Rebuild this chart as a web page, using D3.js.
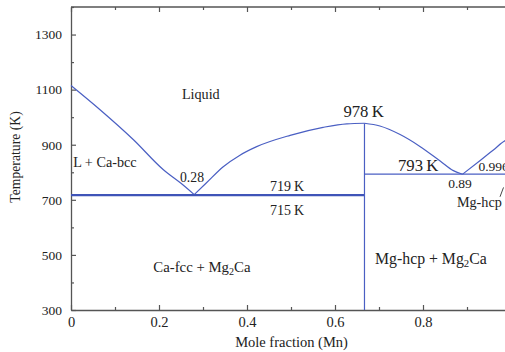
<!DOCTYPE html>
<html>
<head>
<meta charset="utf-8">
<script src="https://cdn.jsdelivr.net/npm/d3@7"></script>
<style>
  html, body { margin: 0; padding: 0; background: #fff; }
  svg { display: block; }
  text { font-family: "Liberation Serif", "DejaVu Serif", serif; fill: #222; }
</style>
</head>
<body>
<svg id="chart" width="505" height="352"></svg>
<script>
// Ca–Mg phase boundaries: [mole fraction, temperature K]
const liquidusCa   = [[0,1115],[0.066,1027],[0.142,918],[0.21,809],[0.25,760],[0.28,719]];
const liquidusMg2CaLeft  = [[0.28,719],[0.308,762],[0.346,820],[0.384,862],[0.422,893],[0.498,934],[0.573,963],[0.627,976],[0.667,978]];
const liquidusMg2CaRight = [[0.667,978],[0.702,968],[0.748,937],[0.793,894],[0.839,841],[0.869,806],[0.89,793]];
const liquidusMg   = [[0.89,793],[0.93,843],[0.96,881],[0.986,914],[1,923]];
const eutecticCa   = [[0,719],[0.667,719]];
const eutectoidCa  = [[0,715],[0.667,715]];
const eutecticMg   = [[0.667,793],[0.996,793]];
const compoundLine = [[0.667,978],[0.667,300]];
const hcpLeader    = [[0.975,711],[0.983,745]];

const xMajor = [0, 0.2, 0.4, 0.6, 0.8, 1.0];
const xLabels = ["0", "0.2", "0.4", "0.6", "0.8", ""];
const xMinor = [0.1, 0.3, 0.5, 0.7, 0.9];
const yMajor = [300, 500, 700, 900, 1100, 1300];
const yMinor = [400, 600, 800, 1000, 1200, 1400];

// point labels: [text, x, T, anchor, size]
const labels = [
  ["Liquid", 0.295, 1065, "middle", 14.2],
  ["L + Ca-bcc", 0.005, 820, "start", 14.2],
  ["0.28", 0.275, 766, "middle", 13.7],
  ["719\u2009K", 0.491, 733, "middle", 14],
  ["715\u2009K", 0.491, 645, "middle", 14],
  ["978\u2009K", 0.665, 1000, "middle", 16.7],
  ["793\u2009K", 0.789, 803, "middle", 16.7],
  ["0.89", 0.884, 744, "middle", 13.5],
  ["0.996", 0.926, 806, "start", 13.5],
  ["Mg-hcp", 0.877, 675, "start", 14.2]
];

const W = 505, H = 352;
const x = d3.scaleLinear().domain([0, 1]).range([71, 511]);
const y = d3.scaleLinear().domain([300, 1400]).range([310, 7]);

const svg = d3.select("#chart");
const axisColor = "#555";
const lineColor = "#4a5fc3";

// frame: top line
svg.append("line")
  .attr("x1", x(0)).attr("x2", W + 10)
  .attr("y1", y(1400)).attr("y2", y(1400))
  .attr("stroke", axisColor).attr("stroke-width", 1.3);

function styleAxis(size) {
  return g => {
    g.select(".domain").attr("stroke", axisColor).attr("stroke-width", 1.3);
    g.selectAll(".tick line").attr("stroke", axisColor).attr("stroke-width", 1.2);
    g.selectAll(".tick text").attr("font-size", size).attr("fill", "#222")
      .attr("font-family", "Liberation Serif, DejaVu Serif, serif");
  };
}

const fmtX = d => xLabels[xMajor.indexOf(d)];

// bottom axis
svg.append("g").attr("transform", `translate(0,${y(300)})`)
  .call(d3.axisBottom(x).tickValues(xMajor).tickFormat(fmtX).tickSizeInner(-5).tickSizeOuter(0).tickPadding(7))
  .call(styleAxis(14.5));
svg.append("g").attr("transform", `translate(0,${y(300)})`)
  .call(d3.axisBottom(x).tickValues(xMinor).tickFormat("").tickSizeInner(-3).tickSizeOuter(0))
  .call(g => g.select(".domain").remove())
  .call(styleAxis(14.5));

// top axis ticks
svg.append("g").attr("transform", `translate(0,${y(1400)})`)
  .call(d3.axisTop(x).tickValues(xMajor).tickFormat("").tickSizeInner(-5).tickSizeOuter(0))
  .call(g => g.select(".domain").remove())
  .call(styleAxis(14.5));
svg.append("g").attr("transform", `translate(0,${y(1400)})`)
  .call(d3.axisTop(x).tickValues(xMinor).tickFormat("").tickSizeInner(-3).tickSizeOuter(0))
  .call(g => g.select(".domain").remove())
  .call(styleAxis(14.5));

// left axis
svg.append("g").attr("transform", `translate(${x(0)},0)`)
  .call(d3.axisLeft(y).tickValues(yMajor).tickFormat(d3.format("d")).tickSizeInner(-5).tickSizeOuter(0).tickPadding(9))
  .call(styleAxis(13.5));
svg.append("g").attr("transform", `translate(${x(0)},0)`)
  .call(d3.axisLeft(y).tickValues(yMinor).tickFormat("").tickSizeInner(-3).tickSizeOuter(0))
  .call(g => g.select(".domain").remove())
  .call(styleAxis(13.5));

// phase boundaries
const line = d3.line().x(d => x(d[0])).y(d => y(d[1]));
const smooth = d3.line().x(d => x(d[0])).y(d => y(d[1])).curve(d3.curveMonotoneX);

const plot = svg.append("g").attr("fill", "none").attr("stroke", lineColor);
[liquidusCa, liquidusMg2CaLeft, liquidusMg2CaRight, liquidusMg].forEach(c =>
  plot.append("path").attr("d", smooth(c)).attr("stroke-width", 1.2));
plot.append("path").attr("d", line(eutecticCa)).attr("stroke", "#3f54b8").attr("stroke-width", 1.4);
plot.append("path").attr("d", line(eutectoidCa)).attr("stroke", "#3f54b8").attr("stroke-width", 1.2);
plot.append("path").attr("d", line(eutecticMg)).attr("stroke-width", 1.2);
plot.append("path").attr("d", line(compoundLine)).attr("stroke-width", 1.2);
plot.append("path").attr("d", line(hcpLeader)).attr("stroke", "#333").attr("stroke-width", 0.9);

// labels
labels.forEach(([t, vx, vy, anchor, size]) => {
  svg.append("text")
    .attr("x", x(vx)).attr("y", y(vy))
    .attr("text-anchor", anchor)
    .attr("font-size", size)
    .text(t);
});

// phase-field labels with a subscript
function subLabel(head, sub, tail, vx, vy, size) {
  const t = svg.append("text").attr("x", x(vx)).attr("y", y(vy))
    .attr("font-size", size);
  t.append("tspan").text(head);
  t.append("tspan").attr("font-size", size * 0.68).attr("dy", 3).text(sub);
  t.append("tspan").attr("dy", -3).text(tail);
}
subLabel("Ca-fcc + Mg", "2", "Ca", 0.187, 439, 14.8);
subLabel("Mg-hcp + Mg", "2", "Ca", 0.691, 467, 15.8);

// axis titles
svg.append("text")
  .attr("x", 291.5).attr("y", 347)
  .attr("text-anchor", "middle").attr("font-size", 14.5)
  .text("Mole fraction (Mn)");
svg.append("text")
  .attr("transform", `translate(20,157) rotate(-90)`)
  .attr("text-anchor", "middle").attr("font-size", 13.7)
  .text("Temperature (K)");
</script>
</body>
</html>
